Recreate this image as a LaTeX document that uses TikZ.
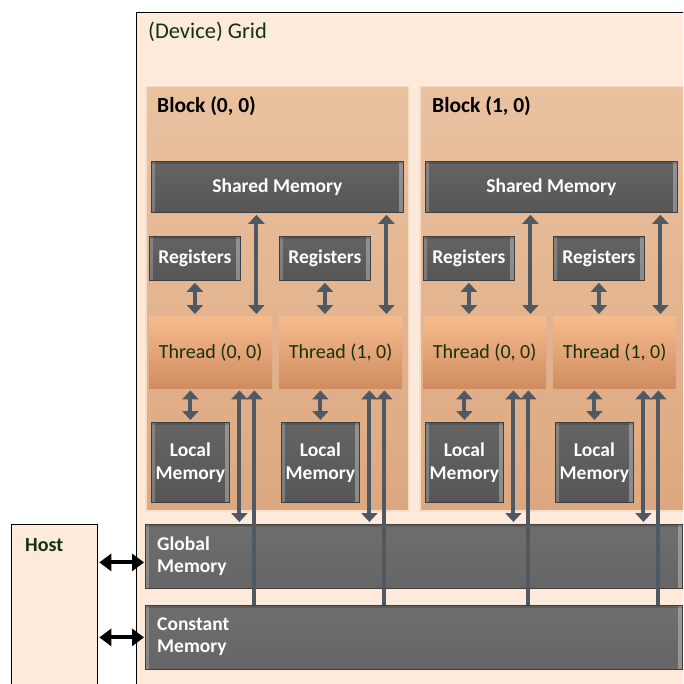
\documentclass[tikz,border=0pt]{standalone}
\usepackage{fontspec}
\setmainfont{Carlito}
\usetikzlibrary{arrows.meta}

\definecolor{gridfill}{RGB}{253,234,218}
\definecolor{blocktop}{RGB}{234,194,160}
\definecolor{blockbot}{RGB}{220,168,128}
\definecolor{threadtop}{RGB}{247,188,142}
\definecolor{threadbot}{RGB}{208,140,96}
\definecolor{memtop}{RGB}{100,100,100}
\definecolor{membot}{RGB}{86,86,86}
\definecolor{memedge}{RGB}{62,62,62}
\definecolor{bigmem}{RGB}{110,110,110}
\definecolor{arrowc}{RGB}{79,89,99}
\definecolor{labelgreen}{RGB}{18,52,12}

\tikzset{
  x=1pt, y=-1pt,
  panel/.style={rectangle, anchor=north west, inner sep=0pt},
  gridbox/.style={panel, fill=gridfill, draw=black, line width=1.3pt},
  blockbox/.style={panel, top color=blocktop, bottom color=blockbot, draw=gridfill!70!blocktop, line width=1.5pt},
  threadbox/.style={panel, top color=threadtop, bottom color=threadbot,
    font=\fontsize{20}{22}\selectfont, text=labelgreen},
  membox/.style={panel, top color=memtop, bottom color=membot, draw=memedge, line width=0.8pt,
    text=white, font=\bfseries\fontsize{19.5}{22}\selectfont, align=center,
    path picture={
      \fill[white, opacity=0.22] (path picture bounding box.north west) rectangle ([xshift=4pt]path picture bounding box.south west);
      \fill[white, opacity=0.30] ([xshift=-4pt]path picture bounding box.north east) rectangle (path picture bounding box.south east);
      \fill[black, opacity=0.15] (path picture bounding box.north west) rectangle ([yshift=-3pt]path picture bounding box.north east);
    }},
  bigmembox/.style={membox, top color=bigmem, bottom color=bigmem!92!black},
  memlabel/.style={anchor=west, text=white, font=\bfseries\fontsize{19.5}{22}\selectfont, align=left, inner sep=0pt},
  title/.style={anchor=west, inner sep=0pt, font=\fontsize{22.5}{25}\selectfont},
  link/.style={draw=arrowc, line width=4pt},
  twoway/.style={link, {Triangle[width=16pt,length=9pt]}-{Triangle[width=16pt,length=9pt]}, shorten <=2pt, shorten >=2pt},
  readonly/.style={link, {Triangle[width=16pt,length=9pt]}-, shorten <=2pt},
  hostlink/.style={draw=black, line width=4pt, {Triangle[width=17pt,length=12pt]}-{Triangle[width=17pt,length=12pt]}, shorten <=1pt, shorten >=1pt},
}

\begin{document}
\begin{tikzpicture}
\useasboundingbox (0,0) rectangle (683,684);
\clip (0,0) rectangle (683,684);
\fill[white] (0,0) rectangle (683,684);

% host and device grid
\node[gridbox, minimum width=86, minimum height=180] (host) at (11,524) {};
\node[title, font=\bfseries\fontsize{20}{22}\selectfont, text=labelgreen] (hostlbl) at (25,545) {Host};
\node[gridbox, minimum width=570, minimum height=690] (grid) at (136,12) {};
\node[title, text=labelgreen] (gridlbl) at (148,32) {(Device) Grid};

% blocks
\node[blockbox, minimum width=263, minimum height=424] (blk0) at (145,86) {};
\node[blockbox, minimum width=264, minimum height=424] (blk1) at (419,86) {};
\node[title, font=\bfseries\fontsize{21.5}{24}\selectfont] (blk0lbl) at (157,106) {Block (0, 0)};
\node[title, font=\bfseries\fontsize{21.5}{24}\selectfont] (blk1lbl) at (432,106) {Block (1, 0)};

% per-block memories and threads
\foreach \b/\ox in {0/0, 1/274} {
  \node[membox, minimum width=252, minimum height=51] (shm\b) at (151+\ox,161) {Shared Memory};
  \node[membox, minimum width=91, minimum height=44] (reg\b0) at (149+\ox,236) {Registers};
  \node[membox, minimum width=91, minimum height=44] (reg\b1) at (279+\ox,236) {Registers};
  \node[threadbox, minimum width=123, minimum height=72] (th\b0) at (149+\ox,316) {Thread (0, 0)};
  \node[threadbox, minimum width=123, minimum height=72] (th\b1) at (279+\ox,316) {Thread (1, 0)};
  \node[membox, minimum width=78, minimum height=80, font=\bfseries\fontsize{19.5}{23}\selectfont] (lm\b0) at (151+\ox,422) {Local\\Memory};
  \node[membox, minimum width=78, minimum height=80, font=\bfseries\fontsize{19.5}{23}\selectfont] (lm\b1) at (281+\ox,422) {Local\\Memory};
}

% device-wide memories
\node[bigmembox, minimum width=537, minimum height=64] (gm) at (145,524) {};
\node[memlabel] (gmlbl) at (157,556) {Global\\Memory};
\node[bigmembox, minimum width=537, minimum height=64] (cm) at (145,605) {};
\node[memlabel] (cmlbl) at (157,637) {Constant\\Memory};

% thread connections
\foreach \b in {0,1} {
  \foreach \t in {0,1} {
    \draw[twoway] (reg\b\t.south) -- (reg\b\t.south |- th\b\t.north);
    \draw[twoway] (lm\b\t.north |- th\b\t.south) -- (lm\b\t.north);
    \draw[twoway] ([xshift=-16pt]th\b\t.north east |- shm\b.south) -- ([xshift=-16pt]th\b\t.north east);
    \draw[twoway] ([xshift=-33pt]th\b\t.south east) -- ([xshift=-33pt]th\b\t.south east |- gm.north);
    \draw[readonly] ([xshift=-18pt]th\b\t.south east) -- ([xshift=-18pt]th\b\t.south east |- cm.north);
  }
}

% host transfers
\draw[hostlink] ([yshift=-6pt]gm.west -| host.east) -- ([yshift=-6pt]gm.west);
\draw[hostlink] (cm.west -| host.east) -- (cm.west);
\end{tikzpicture}
\end{document}
